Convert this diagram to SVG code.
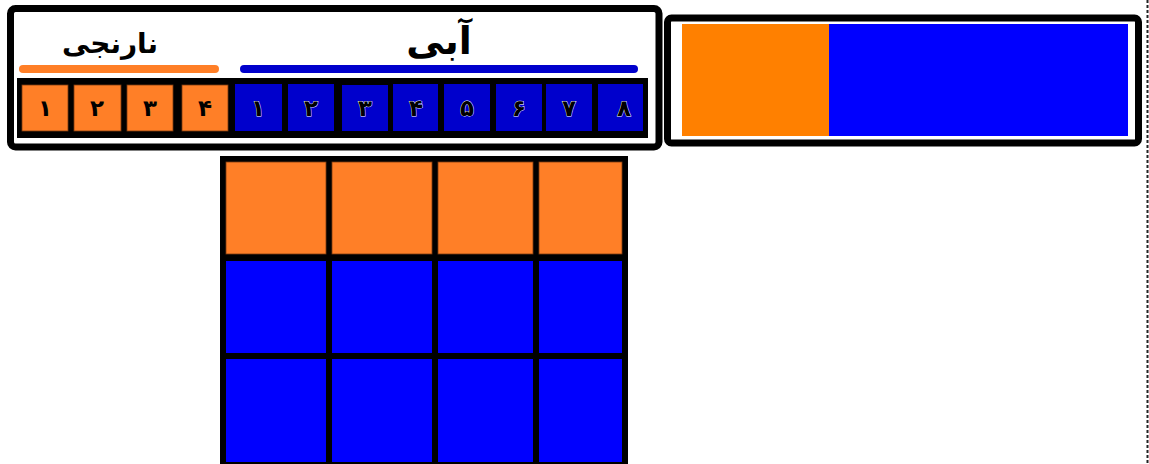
<svg xmlns="http://www.w3.org/2000/svg" width="1149" height="464" viewBox="0 0 1149 464">
<style>
.frame{fill:#fff;stroke:#000;stroke-width:7}
.o{fill:#FF7F27;stroke:#7a3a10;stroke-width:0.8}
.b{fill:#0000CC}
.g{fill:#0000FF}
.d{font-family:"DejaVu Sans",sans-serif;font-weight:bold;font-size:23px;text-anchor:middle;fill:#000}
.dw{stroke:#fff;stroke-width:0.8;paint-order:stroke}
.t{font-family:"DejaVu Sans",sans-serif;font-weight:bold;text-anchor:middle;fill:#000}
</style>
<rect width="1149" height="464" fill="#fff"/>
<line x1="1147.5" y1="0" x2="1147.5" y2="464" stroke="#222" stroke-width="2" stroke-dasharray="3 2"/>

<g id="strip-box">
<rect class="frame" x="10.5" y="8.5" width="648.5" height="138.5" rx="5"/>
<text class="t" x="110" y="53" font-size="28" direction="rtl">نارنجی</text>
<text class="t" x="439" y="54" font-size="38" direction="rtl">آبی</text>
<line x1="23" y1="69" x2="215" y2="69" stroke="#FF7F27" stroke-width="8" stroke-linecap="round"/>
<line x1="244" y1="69" x2="634" y2="69" stroke="#0000CC" stroke-width="8" stroke-linecap="round"/>
<rect x="17" y="78" width="631" height="60" fill="#000"/>
<rect class="o" x="22" y="85" width="46" height="46"/>
<rect class="o" x="74" y="85" width="47" height="46"/>
<rect class="o" x="127" y="85" width="46" height="46"/>
<rect class="o" x="182" y="85" width="46" height="46"/>
<rect class="b" x="235" y="84" width="47" height="47"/>
<rect class="b" x="288" y="84" width="46" height="47"/>
<rect class="b" x="342" y="85" width="46" height="46"/>
<rect class="b" x="393" y="84" width="45" height="47"/>
<rect class="b" x="444" y="84" width="46" height="47"/>
<rect class="b" x="496" y="84" width="46" height="47"/>
<rect class="b" x="546" y="84" width="46" height="47"/>
<rect class="b" x="598" y="84" width="45" height="47"/>
<text class="d" x="45" y="116">۱</text>
<text class="d" x="97" y="116">۲</text>
<text class="d" x="150" y="116">۳</text>
<text class="d" x="205" y="116">۴</text>
<text class="d dw" x="258" y="116">۱</text>
<text class="d dw" x="311" y="116">۲</text>
<text class="d dw" x="365" y="116">۳</text>
<text class="d dw" x="416" y="116">۴</text>
<text class="d dw" x="467" y="116">۵</text>
<text class="d dw" x="519" y="116">۶</text>
<text class="d dw" x="569" y="116">۷</text>
<text class="d dw" x="624" y="116">۸</text>
</g>

<g id="bar-box">
<rect class="frame" x="667.5" y="18" width="471" height="125" rx="4" stroke-width="6.5"/>
<rect x="682" y="24" width="147" height="112" fill="#FF8000"/>
<rect x="829" y="24" width="299" height="112" fill="#0000FF"/>
</g>

<g id="grid">
<rect x="220" y="156" width="408" height="320" fill="#000"/>
<rect class="o" x="226" y="162" width="100" height="92"/>
<rect class="o" x="332" y="162" width="100" height="92"/>
<rect class="o" x="438" y="162" width="95" height="92"/>
<rect class="o" x="539" y="162" width="83" height="92"/>
<rect class="g" x="226" y="261" width="100" height="92"/>
<rect class="g" x="332" y="261" width="100" height="92"/>
<rect class="g" x="438" y="261" width="95" height="92"/>
<rect class="g" x="539" y="261" width="83" height="92"/>
<rect class="g" x="226" y="359" width="100" height="103"/>
<rect class="g" x="332" y="359" width="100" height="103"/>
<rect class="g" x="438" y="359" width="95" height="103"/>
<rect class="g" x="539" y="359" width="83" height="103"/>
</g>
</svg>
